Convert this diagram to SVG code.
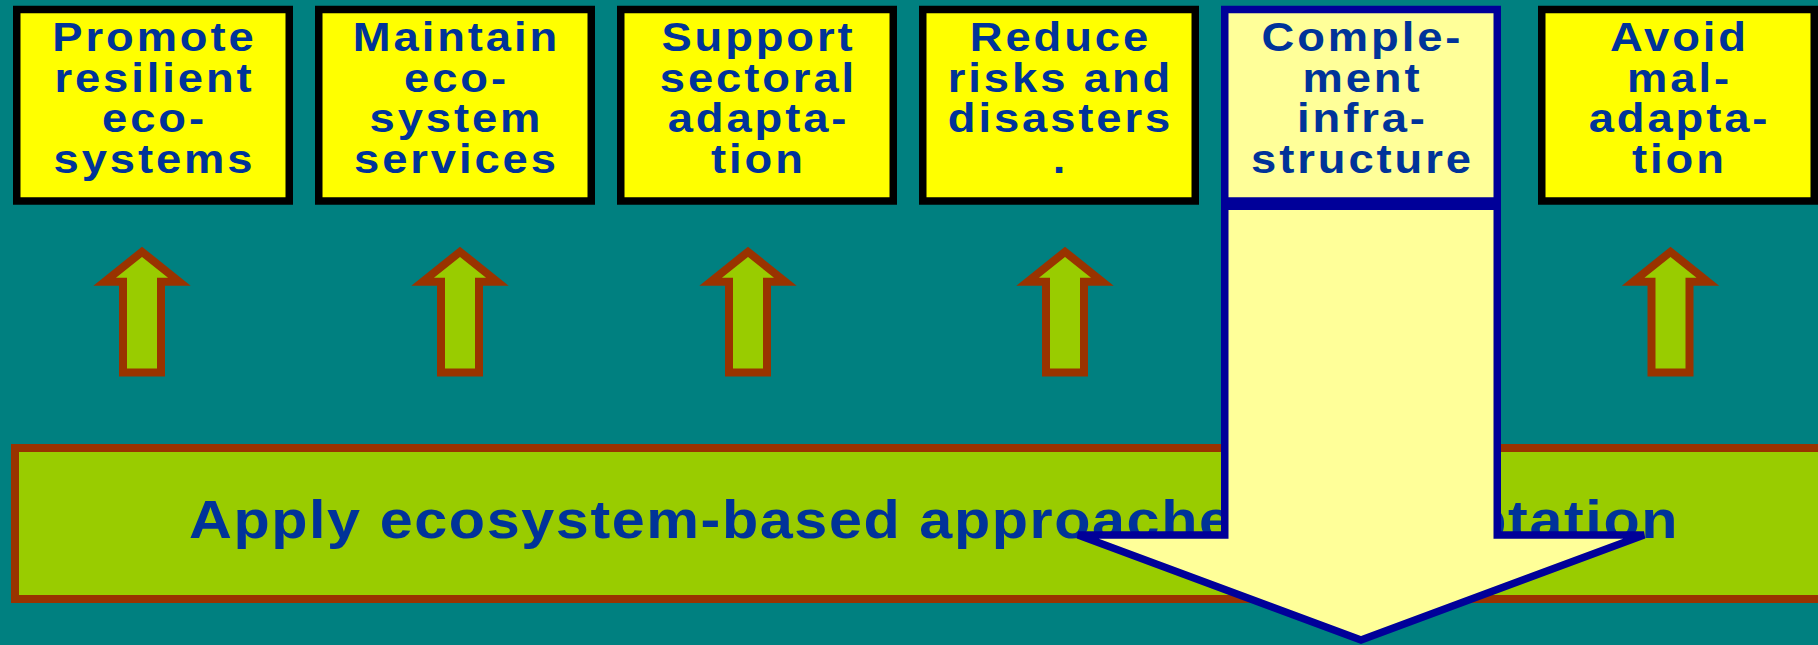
<svg xmlns="http://www.w3.org/2000/svg" width="1818" height="645" viewBox="0 0 1818 645">
<style>
.box{fill:#FFFF00;stroke:#000000;stroke-width:7.5}
.box5{fill:#FFFF99;stroke:#000099;stroke-width:7.5}
.lbl{font-family:"Liberation Sans",Arial,sans-serif;font-weight:bold;font-size:40.5px;fill:#003399;text-anchor:middle;letter-spacing:2.6px}
.up{fill:#99CC00;stroke:#993300;stroke-width:8;stroke-linejoin:miter;stroke-miterlimit:6}
.bar{fill:#99CC00;stroke:#993300;stroke-width:8}
.barText{font-family:"Liberation Sans",Arial,sans-serif;font-weight:bold;font-size:53px;fill:#003399;letter-spacing:1.4px}
.down{fill:#FFFF99;stroke:#000099;stroke-width:7.5;stroke-linejoin:miter;stroke-miterlimit:4}
</style>
<defs>
<path id="uparrow" d="M0,251.8 L37.3,281.7 L19,281.7 L19,372.5 L-19,372.5 L-19,281.7 L-37.3,281.7 Z"/>
</defs>
<rect x="0" y="0" width="1818" height="645" fill="#008080"/>

<g id="base">
<rect class="bar" x="15" y="448" width="1830" height="151"/>
<text class="barText" transform="translate(189,537.5) scale(1.12,1)" x="0" y="0">Apply ecosystem-based approaches to adaptation</text>
</g>

<g id="connectors">
<use href="#uparrow" class="up" x="142"/>
<use href="#uparrow" class="up" x="460"/>
<use href="#uparrow" class="up" x="748"/>
<use href="#uparrow" class="up" x="1065"/>
<use href="#uparrow" class="up" x="1670.5"/>
</g>

<g id="n1">
<rect class="box" x="16.75" y="9.5" width="272.5" height="191.5"/>
<text class="lbl" transform="translate(153,0) scale(1.12,1)"><tspan x="1.3" y="51">Promote</tspan><tspan x="1.3" y="92">resilient</tspan><tspan x="1.3" y="132.5">eco-</tspan><tspan x="1.3" y="173">systems</tspan></text>
</g>
<g id="n2">
<rect class="box" x="318.75" y="9.5" width="272.5" height="191.5"/>
<text class="lbl" transform="translate(455,0) scale(1.12,1)"><tspan x="1.3" y="51">Maintain</tspan><tspan x="1.3" y="92">eco-</tspan><tspan x="1.3" y="132.5">system</tspan><tspan x="1.3" y="173">services</tspan></text>
</g>
<g id="n3">
<rect class="box" x="620.75" y="9.5" width="272.5" height="191.5"/>
<text class="lbl" transform="translate(757,0) scale(1.12,1)"><tspan x="1.3" y="51">Support</tspan><tspan x="1.3" y="92">sectoral</tspan><tspan x="1.3" y="132.5">adapta-</tspan><tspan x="1.3" y="173">tion</tspan></text>
</g>
<g id="n4">
<rect class="box" x="922.75" y="9.5" width="272.5" height="191.5"/>
<text class="lbl" transform="translate(1059,0) scale(1.12,1)"><tspan x="1.3" y="51">Reduce</tspan><tspan x="1.3" y="92">risks and</tspan><tspan x="1.3" y="132.5">disasters</tspan><tspan x="1.3" y="173">.</tspan></text>
</g>
<g id="n5">
<rect class="box5" x="1224.75" y="9.5" width="272.5" height="191.5"/>
<text class="lbl" transform="translate(1361,0) scale(1.12,1)"><tspan x="1.3" y="51">Comple-</tspan><tspan x="1.3" y="92">ment</tspan><tspan x="1.3" y="132.5">infra-</tspan><tspan x="1.3" y="173">structure</tspan></text>
</g>
<g id="n6">
<rect class="box" x="1541.75" y="9.5" width="272.5" height="191.5"/>
<text class="lbl" transform="translate(1678,0) scale(1.12,1)"><tspan x="1.3" y="51">Avoid</tspan><tspan x="1.3" y="92">mal-</tspan><tspan x="1.3" y="132.5">adapta-</tspan><tspan x="1.3" y="173">tion</tspan></text>
</g>

<g id="downarrow">
<path class="down" d="M1224.75,206.25 H1497.25 V535 H1644 L1361,640 L1078,535 H1224.75 Z"/>
</g>
</svg>
